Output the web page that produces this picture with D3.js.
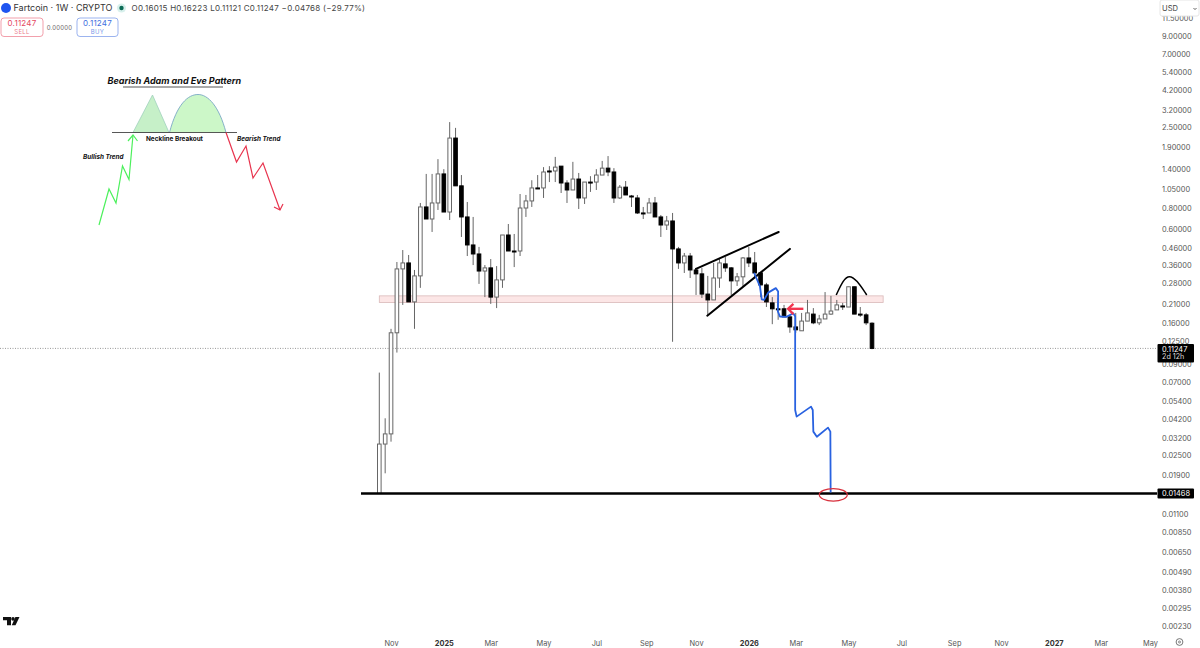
<!DOCTYPE html>
<html>
<head>
<meta charset="utf-8">
<script src="https://cdn.jsdelivr.net/npm/d3@7"></script>
<style>
  body { margin: 0; background: #fff; }
  text { font-family: Inter, "Noto Sans", sans-serif; }
  .axis text { font-size: 7.4px; fill: #555; }
  .axis path { display: none; }
</style>
</head>
<body>
<div id="chart"></div>
<script>
// weekly candles
var open = [.01468,.0294,.0339,.14,.343,.373,.216,.311,.818,.691,.865,1.30,.762,2.15,1.10,.711,.48,.423,.333,.348,.231,.294,.552,.441,.441,.806,.89,1.068,1.068,1.355,1.355,1.45,1.145,1.038,1.21,.928,1.16,1.16,1.28,1.41,1.336,.928,1.08,.954,.928,.752,.752,.865,.711,.635,.672,.454,.373,.411,.338,.32,.241,.222,.302,.368,.348,.29,.307,.40,.373,.324,.274,.213,.196,.196,.175,.152,.144,.165,.182,.161,.17,.182,.193,.204,.201,.267,.182,.18,.16015];
var high = [.0801,.0422,.148,.378,.447,.417,.338,.865,1.30,1.30,1.60,1.39,2.69,2.48,1.28,.877,.711,.467,.362,.394,.357,.552,.644,.56,.981,.968,1.19,1.28,1.43,1.45,1.65,1.45,1.19,1.54,1.318,1.16,1.26,1.39,1.56,1.67,1.41,1.113,1.177,.968,.968,.818,.928,.941,.731,.721,.752,.467,.429,.429,.348,.348,.311,.373,.40,.405,.352,.324,.405,.467,.435,.329,.282,.231,.228,.207,.18,.185,.185,.222,.198,.18,.248,.235,.222,.213,.267,.267,.201,.185,.16223];
var low = [.01468,.0195,.0304,.1061,.207,.216,.148,.263,.691,.576,.784,.762,.681,1.10,.537,.411,.362,.278,.231,.21,.198,.263,.441,.352,.411,.711,.818,1.053,.928,1.16,1.16,.995,.865,1.038,.795,.853,1.01,1.038,1.28,1.26,.865,.915,.968,.818,.741,.691,.752,.711,.537,.592,.1234,.343,.324,.302,.238,.228,.18,.222,.263,.329,.238,.27,.27,.352,.302,.231,.201,.158,.168,.175,.14,.14,.144,.165,.158,.156,.17,.18,.193,.193,.201,.182,.175,.156,.11121];
var close = [.0294,.0339,.14,.343,.373,.216,.311,.818,.691,.865,1.30,.762,2.15,1.10,.711,.48,.423,.333,.348,.231,.294,.552,.441,.441,.806,.89,1.068,1.068,1.336,1.355,1.43,1.145,1.038,1.21,.928,1.16,1.16,1.28,1.41,1.336,.928,1.08,.968,.954,.752,.752,.865,.711,.635,.672,.454,.373,.411,.338,.32,.241,.222,.302,.373,.348,.29,.307,.40,.373,.324,.274,.216,.196,.196,.175,.152,.146,.165,.185,.161,.17,.182,.19,.207,.204,.267,.182,.182,.161,.11247];

// axis ticks
var priceTicks = [11.5,9,7,5.4,4.2,3.2,2.5,1.9,1.4,1.05,.8,.6,.46,.36,.28,.21,.16,.125,.09,.07,.054,.042,.032,.025,.019,.011,.0085,.0065,.0049,.0038,.00295,.0023];
var weekTicks = [2,11,19,28,37,45.5,54,63,71,80,89,98,106,115,123,131.4];
var weekLabels = ["Nov","2025","Mar","May","Jul","Sep","Nov","2026","Mar","May","Jul","Sep","Nov","2027","Mar","May"];

var lastPrice = 0.11247;
var targetPrice = 0.01468;
var zonePrices = [0.235, 0.214];
var zoneWeeks = [0, 85.9];

// drawings on the chart, [week, price]
var wedgeUpper = [[53.99,.343],[68.09,.576]];
var wedgeLower = [[55.92,.178],[70.0,.454]];
var arch = [[77.9,.238],[79.1,.294],[80.1,.315],[81.4,.294],[83.1,.238]];
var bluePath = [[63.9,.325],[64.9,.268],[65.2,.224],[65.6,.222],[66.3,.246],[67.6,.262],[68.0,.25],[67.95,.189],[68.3,.176],[69.4,.175],[70.6,.184],[70.9,.176],[70.9,.146],[70.9,.0474],[71.15,.0432],[73.6,.0497],[73.9,.0474],[74.0,.035],[74.6,.0326],[76.5,.037],[76.9,.035],[76.95,.0149]];
var redArrowShaft = [[69.7,.196],[72.3,.196]];
var redArrowHead = [[70.6,.21],[69.7,.196],[70.6,.182]];

var width = 1200, height = 648;
var paneRight = 1157;

var x = d3.scaleLinear().domain([0,84]).range([379.3,872]);
var y = d3.scaleLog().domain([0.0023,9]).range([625.7,36]);

var svg = d3.select("#chart").append("svg")
  .attr("width",width).attr("height",height)
  .style("display","block");

var line = d3.line().x(function(d){ return x(d[0]); }).y(function(d){ return y(d[1]); });
var archLine = d3.line().x(function(d){ return x(d[0]); }).y(function(d){ return y(d[1]); }).curve(d3.curveBasis);

// last price dotted line
svg.append("line")
  .attr("x1",0).attr("x2",paneRight)
  .attr("y1",y(lastPrice)).attr("y2",y(lastPrice))
  .attr("stroke","#999").attr("stroke-width",1).attr("stroke-dasharray","1,1.5");

// pink zone
svg.append("rect")
  .attr("x",x(zoneWeeks[0]))
  .attr("y",y(zonePrices[0]))
  .attr("width",x(zoneWeeks[1])-x(zoneWeeks[0]))
  .attr("height",y(zonePrices[1])-y(zonePrices[0]))
  .attr("fill","#fce6e6").attr("stroke","#d9b8b8").attr("stroke-width",0.8);

// candles
var candles = open.map(function(o,i){
  return {i:i, o:o, h:high[i], l:low[i], c:close[i]};
});
var bodyW = 3.6;

svg.append("g").selectAll("line").data(candles).enter().append("line")
  .attr("x1",function(d){ return x(d.i); })
  .attr("x2",function(d){ return x(d.i); })
  .attr("y1",function(d){ return y(d.h); })
  .attr("y2",function(d){ return y(d.l); })
  .attr("stroke","#666").attr("stroke-width",1);

svg.append("g").selectAll("rect").data(candles).enter().append("rect")
  .attr("x",function(d){ return x(d.i)-bodyW/2; })
  .attr("y",function(d){ return y(Math.max(d.o,d.c)); })
  .attr("width",bodyW)
  .attr("height",function(d){ return Math.max(Math.abs(y(d.o)-y(d.c)),1); })
  .attr("fill",function(d){ return d.c>d.o ? "#fff" : "#000"; })
  .attr("stroke",function(d){ return d.c>d.o ? "#666" : "#000"; })
  .attr("stroke-width",1);

// target line
svg.append("line")
  .attr("x1",361).attr("x2",paneRight)
  .attr("y1",y(targetPrice)).attr("y2",y(targetPrice))
  .attr("stroke","#000").attr("stroke-width",2.4);

// wedge + arch
[wedgeUpper,wedgeLower].forEach(function(l){
  svg.append("path").attr("d",line(l)).attr("fill","none")
    .attr("stroke","#000").attr("stroke-width",2).attr("stroke-linecap","round");
});
svg.append("path").attr("d",archLine(arch)).attr("fill","none")
  .attr("stroke","#000").attr("stroke-width",1.5);

// projected path
svg.append("path").attr("d",line(bluePath)).attr("fill","none")
  .attr("stroke","#2962e0").attr("stroke-width",1.8).attr("stroke-linejoin","round");

// red arrow
[redArrowShaft,redArrowHead].forEach(function(l){
  svg.append("path").attr("d",line(l)).attr("fill","none")
    .attr("stroke","#f23650").attr("stroke-width",2.4);
});

// red ellipse at the target
svg.append("ellipse")
  .attr("cx",x(77.4)).attr("cy",y(0.01442))
  .attr("rx",14).attr("ry",6.3)
  .attr("fill","none").attr("stroke","#d8303c").attr("stroke-width",1.2);

// price axis
svg.append("g").attr("class","axis")
  .attr("transform","translate(1162,0)")
  .call(d3.axisRight(y).tickValues(priceTicks).tickSize(0).tickPadding(0)
    .tickFormat(d3.format(".5f")));

// time axis
svg.append("g").attr("class","axis")
  .attr("transform","translate(0,641)")
  .call(d3.axisBottom(x).tickValues(weekTicks).tickSize(0).tickPadding(0)
    .tickFormat(function(d,i){ return weekLabels[i]; }))
  .selectAll("text")
  .style("font-weight",function(d,i){ return /^\d/.test(weekLabels[i]) ? 700 : 400; })
  .style("fill",function(d,i){ return /^\d/.test(weekLabels[i]) ? "#333" : "#555"; });

// price badges
function badge(price,top,h,second){
  svg.append("rect").attr("x",1157.5).attr("y",top).attr("width",36.5).attr("height",h)
    .attr("fill","#000").attr("rx",1);
  svg.append("text").attr("x",1162).attr("y",top+7.6).attr("fill","#fff")
    .style("font-size","7.4px").text(price);
  if(second){
    svg.append("text").attr("x",1162).attr("y",top+15.2).attr("fill","#ddd")
      .style("font-size","7.2px").text(second);
  }
}
badge("0.11247",344,18.5,"2d 12h");
badge("0.01468",y(targetPrice)-5,10);

// USD box
svg.append("rect").attr("x",1160).attr("y",0).attr("width",39).attr("height",16)
  .attr("fill","#fff").attr("stroke","#e6e6e6").attr("rx",2);
svg.append("text").attr("x",1162).attr("y",11).attr("fill","#444")
  .style("font-size","7.6px").text("USD");
svg.append("path").attr("d","M1193.5 8 L1195 9.6 L1196.5 8").attr("fill","none").attr("stroke","#666");

// bottom right settings icon
svg.append("circle").attr("cx",1179.5).attr("cy",642).attr("r",3.4)
  .attr("fill","none").attr("stroke","#555").attr("stroke-width",0.8);
svg.append("circle").attr("cx",1179.5).attr("cy",642).attr("r",1)
  .attr("fill","none").attr("stroke","#555").attr("stroke-width",0.7);

// header
svg.append("circle").attr("cx",6).attr("cy",8).attr("r",5).attr("fill","#1f55f0");
svg.append("text").attr("x",13.5).attr("y",11.3).attr("fill","#333")
  .style("font-size","9px").text("Fartcoin · 1W · CRYPTO");
svg.append("circle").attr("cx",121.5).attr("cy",8).attr("r",4.6).attr("fill","#d8f0ec");
svg.append("circle").attr("cx",121.5).attr("cy",8).attr("r",2.2).attr("fill","#0b6b55");
svg.append("text").attr("x",131.5).attr("y",11).attr("fill","#444")
  .style("font-size","8px").style("letter-spacing","0.27px")
  .text("O0.16015  H0.16223  L0.11121  C0.11247  −0.04768 (−29.77%)");

// sell / buy boxes
function tradeBox(bx,w,col,price,label){
  svg.append("rect").attr("x",bx).attr("y",18).attr("width",w).attr("height",18.5).attr("rx",3)
    .attr("fill","#fff").attr("stroke",col).attr("stroke-width",0.8).attr("stroke-opacity",0.65);
  svg.append("text").attr("x",bx+w/2).attr("y",26).attr("text-anchor","middle").attr("fill",col)
    .style("font-size","8px").style("letter-spacing","0.2px").text(price);
  svg.append("text").attr("x",bx+w/2).attr("y",34).attr("text-anchor","middle").attr("fill",col)
    .attr("fill-opacity",0.75).style("font-size","6px").style("letter-spacing","0.3px").text(label);
}
tradeBox(1,42,"#e5485f","0.11247","SELL");
tradeBox(77,41,"#3f6fe0","0.11247","BUY");
svg.append("text").attr("x",59.5).attr("y",29.5).attr("text-anchor","middle").attr("fill","#666")
  .style("font-size","6px").style("letter-spacing","0.2px").text("0.00000");

// tradingview logo
svg.append("path").attr("d","M3 617 H11 V625.3 H7 V620.3 H3 Z M19.5 617 L15.5 625.3 H11.8 L15.4 617 Z").attr("fill","#111");
svg.append("circle").attr("cx",13).attr("cy",618.9).attr("r",1.8).attr("fill","#111");

// pattern sketch, top left (a pasted picture, page coordinates)
var inset = svg.append("g");
var plain = d3.line();
inset.append("path").attr("d","M133 132.5 L152.5 95 L169 132.5 Z")
  .attr("fill","#c6f0c8").attr("stroke","#a0d0bc").attr("stroke-width",0.8);
inset.append("path").attr("d","M169.5 132.5 C177 104 188 94.5 198 94.5 C208 94.5 219 106 226 132.5 Z")
  .attr("fill","#ccf7c8");
inset.append("path").attr("d","M169.5 132.5 C177 104 188 94.5 198 94.5 C208 94.5 219 106 226 132.5")
  .attr("fill","none").attr("stroke","#7aa8c4").attr("stroke-width",0.9);
inset.append("path").attr("d",plain([[112,132.5],[237,132.5]])).attr("stroke","#444").attr("stroke-width",0.9);
inset.append("path").attr("d",plain([[123,87],[223,87]])).attr("stroke","#444").attr("stroke-width",0.9);
inset.append("path").attr("d",plain([[99,225],[109,189],[116,203],[122.5,166],[129,179.5],[133,135]]))
  .attr("fill","none").attr("stroke","#4cf05c").attr("stroke-width",1.2);
inset.append("path").attr("d",plain([[128,141],[133,135],[137.5,141]]))
  .attr("fill","none").attr("stroke","#4cf05c").attr("stroke-width",1.2);
inset.append("path").attr("d",plain([[226,132.5],[236.5,162],[246,146],[253,178],[263,163],[280,210]]))
  .attr("fill","none").attr("stroke","#e8344e").attr("stroke-width",1.2);
inset.append("path").attr("d",plain([[274,207],[280,210],[283,204]]))
  .attr("fill","none").attr("stroke","#e8344e").attr("stroke-width",1.2);

function insetText(tx,ty,size,italic,str){
  inset.append("text").attr("x",tx).attr("y",ty).attr("fill","#111")
    .style("font-size",size+"px").style("font-weight",700)
    .style("font-style",italic ? "italic" : "normal").text(str);
}
insetText(107.5,84.3,9,true,"Bearish Adam and Eve Pattern");
insetText(146,141.2,6.4,false,"Neckline Breakout");
insetText(83,159.2,6.4,true,"Bullish Trend");
insetText(237,140.6,6.4,true,"Bearish Trend");
</script>
</body>
</html>
